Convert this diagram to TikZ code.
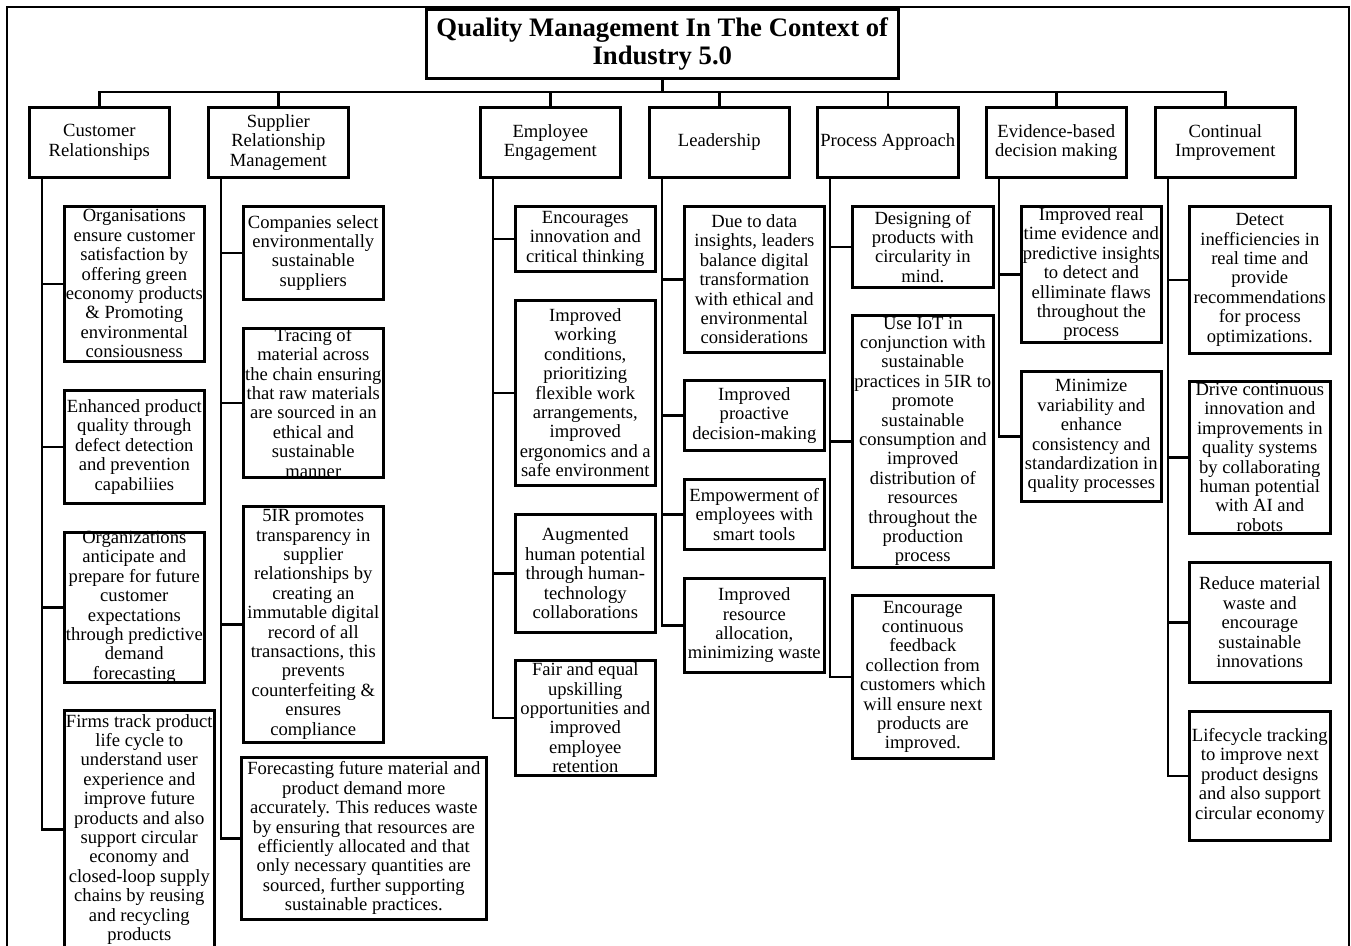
\documentclass[tikz,border=0pt]{standalone}
\usepackage{fontspec}
\setmainfont{Liberation Serif}
\newcommand\qbox[6]{%
  \node[box, minimum width=#4pt, minimum height=#5pt] (#1) at (#2,#3) {};
  \node[txt] (#1t) at (#1.center) {#6};}
\begin{document}
\begin{tikzpicture}[x=1pt,y=-1pt,
  box/.style={draw, line width=2.6pt, inner sep=0pt, anchor=north west},
  txt/.style={align=center, inner sep=0pt, font=\fontsize{18.6pt}{19.4pt}\selectfont},
  ttl/.style={align=center, inner sep=0pt, font=\fontsize{26.7pt}{28pt}\selectfont\bfseries},
  conn/.style={line width=2.6pt},
  frame/.style={line width=1.2pt}]
\useasboundingbox (0,0) rectangle (1351,945);
% outer frame
\draw[frame] (7,960) -- (7,7) -- (1349,7) -- (1349,960);
% title
\node[box, minimum width=472pt, minimum height=69pt] (title) at (425,8) {};
\node[ttl] (titlet) at (title.center) {Quality Management In The Context of\\Industry 5.0};
% categories
\qbox{cA}{28}{106}{140}{70}{Customer\\Relationships}
\qbox{cB}{207}{106}{140}{70}{Supplier\\Relationship\\Management}
\qbox{cC}{479}{106}{140}{70}{Employee\\Engagement}
\qbox{cD}{648}{106}{140}{70}{Leadership}
\qbox{cE}{816}{106}{141}{70}{Process Approach}
\qbox{cF}{985}{106}{140}{70}{Evidence-based\\decision making}
\qbox{cG}{1154}{106}{140}{70}{Continual\\Improvement}
% bus
\coordinate (bus) at (0,92);
\draw[conn] (title.south) -- (title.south |- bus);
\draw[conn] (cA.north) |- (cG.north |- bus) -- (cG.north);
\foreach \c in {cB,cC,cD,cE,cF} \draw[conn] (\c.north |- bus) -- (\c.north);
% Customer children
\qbox{a1}{63}{205}{140}{155}{Organisations\\ensure customer\\satisfaction by\\offering green\\economy products\\\& Promoting\\environmental\\consiousness}
\qbox{a2}{63}{389}{140}{113}{Enhanced product\\quality through\\defect detection\\and prevention\\capabiliies}
\qbox{a3}{63}{531}{140}{150}{Organizations\\anticipate and\\prepare for future\\customer\\expectations\\through predictive\\demand\\forecasting}
\qbox{a4}{63}{709}{150}{238}{Firms track product\\life cycle to\\understand user\\experience and\\improve future\\products and also\\support circular\\economy and\\closed-loop supply\\chains by reusing\\and recycling\\products}
% Supplier children
\qbox{b1}{242}{205}{140}{93}{Companies select\\environmentally\\sustainable\\suppliers}
\qbox{b2}{242}{327}{140}{149}{Tracing of\\material across\\the chain ensuring\\that raw materials\\are sourced in an\\ethical and\\sustainable\\manner}
\qbox{b3}{242}{505}{140}{236}{5IR promotes\\transparency in\\supplier\\relationships by\\creating an\\immutable digital\\record of all\\transactions, this\\prevents\\counterfeiting \&\\ensures\\compliance}
\qbox{b4}{240}{756}{245}{162}{Forecasting future material and\\product demand more\\accurately. This reduces waste\\by ensuring that resources are\\efficiently allocated and that\\only necessary quantities are\\sourced, further supporting\\sustainable practices.}
% Employee children
\qbox{c1}{514}{205}{140}{65}{Encourages\\innovation and\\critical thinking}
\qbox{c2}{514}{299}{140}{185}{Improved\\working\\conditions,\\prioritizing\\flexible work\\arrangements,\\improved\\ergonomics and a\\safe environment}
\qbox{c3}{514}{513}{140}{118}{Augmented\\human potential\\through human-\\technology\\collaborations}
\qbox{c4}{514}{659}{140}{115}{Fair and equal\\upskilling\\opportunities and\\improved\\employee\\retention}
% Leadership children
\qbox{d1}{683}{205}{140}{146}{Due to data\\insights, leaders\\balance digital\\transformation\\with ethical and\\environmental\\considerations}
\qbox{d2}{683}{379}{140}{70}{Improved\\proactive\\decision-making}
\qbox{d3}{683}{478}{140}{70}{Empowerment of\\employees with\\smart tools}
\qbox{d4}{683}{577}{140}{94}{Improved\\resource\\allocation,\\minimizing waste}
% Process children
\qbox{e1}{851}{205}{141}{81}{Designing of\\products with\\circularity in\\mind.}
\qbox{e2}{851}{314}{141}{252}{Use IoT in\\conjunction with\\sustainable\\practices in 5IR to\\promote\\sustainable\\consumption and\\improved\\distribution of\\resources\\throughout the\\production\\process}
\qbox{e3}{851}{594}{141}{163}{Encourage\\continuous\\feedback\\collection from\\customers which\\will ensure next\\products are\\improved.}
% Evidence children
\qbox{f1}{1020}{205}{140}{136}{Improved real\\time evidence and\\predictive insights\\to detect and\\elliminate flaws\\throughout the\\process}
\qbox{f2}{1020}{370}{140}{130}{Minimize\\variability and\\enhance\\consistency and\\standardization in\\quality processes}
% Continual children
\qbox{g1}{1188}{205}{141}{147}{Detect\\inefficiencies in\\real time and\\provide\\recommendations\\for process\\optimizations.}
\qbox{g2}{1188}{380}{141}{152}{Drive continuous\\innovation and\\improvements in\\quality systems\\by collaborating\\human potential\\with AI and\\robots}
\qbox{g3}{1188}{561}{141}{120}{Reduce material\\waste and\\encourage\\sustainable\\innovations}
\qbox{g4}{1188}{710}{141}{129}{Lifecycle tracking\\to improve next\\product designs\\and also support\\circular economy}
% trunks
\foreach \cat/\last/\others in {cA/a4/{a1,a2,a3}, cB/b4/{b1,b2,b3}, cC/c4/{c1,c2,c3}, cD/d4/{d1,d2,d3}, cE/e3/{e1,e2}, cF/f2/{f1}, cG/g4/{g1,g2,g3}}{
  \coordinate (t\cat) at ([xshift=14pt]\cat.south west);
  \draw[conn] (t\cat) |- (\last.west);
  \foreach \ch in \others \draw[conn] (\ch.west -| t\cat) -- (\ch.west);
}
\end{tikzpicture}
\end{document}
